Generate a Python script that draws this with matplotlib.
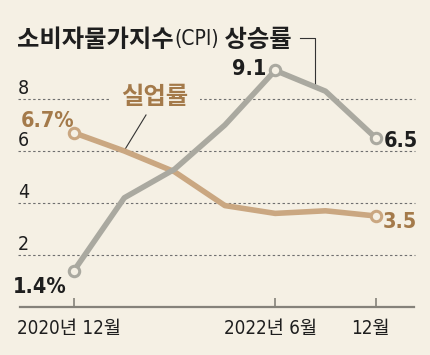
import matplotlib.pyplot as plt
from matplotlib.lines import Line2D

# data
labels = ['2020년 12월', '', '', '', '2022년 6월', '', '12월']
cpi = [1.4, 4.2, 5.3, 7.0, 9.1, 8.3, 6.5]
unemp = [6.7, 6.0, 5.2, 3.9, 3.6, 3.7, 3.5]
yticks = [2, 4, 6, 8]

W, H = 430, 355
BG = '#f5f0e4'
CPI_C = '#aaa9a0'
UN_C = '#caa781'
UN_TXT = '#a47a4a'
INK = '#1e1e1e'
KR = ['Noto Sans CJK KR']
NUM = dict(family=['DejaVu Sans', 'Noto Sans CJK KR'], stretch='condensed')

fig = plt.figure(figsize=(W / 100, H / 100), dpi=100, facecolor=BG)
ax = fig.add_axes([0, 0, 1, 1])
ax.set_facecolor(BG)
ax.axis('off')
# pixel layout: index i -> 74 + 50.3*i, value v -> 307 - 26*v
ax.set_xlim(-74 / 50.3, (W - 74) / 50.3)
ax.set_ylim((307 - H) / 26, 307 / 26)


def fx(px):
    return px / W


def fy(py):
    return 1 - py / H


# grid
for v in yticks:
    ax.axhline(v, xmin=fx(18), xmax=fx(415), color='#6f6f6f', lw=0.8,
               ls=(0, (2.2, 2.2)), zorder=1)
    ax.text(fx(18), fy(307 - 26 * v - 5), str(v), transform=ax.transAxes,
            fontsize=14, color=INK, va='baseline', ha='left', **NUM)

# x axis
ax.axhline(0, xmin=fx(20), xmax=fx(414), color='#85827a', lw=1.6, zorder=2)
xs = list(range(len(labels)))
tick_idx = [i for i, l in enumerate(labels) if l]
ax.vlines(tick_idx, 0, 9 / 26, color='#85827a', lw=1.2, zorder=2)
for i in tick_idx:
    ax.annotate(labels[i], (i, 0), xytext=(-5, -27), textcoords='offset pixels',
                ha='center', va='baseline', fontsize=13.5, color=INK, **NUM)

# lines
ax.plot(xs, unemp, color=UN_C, lw=4, solid_capstyle='round',
        solid_joinstyle='round', zorder=4)
ax.plot(xs, cpi, color=CPI_C, lw=4, solid_capstyle='round',
        solid_joinstyle='round', zorder=5)
for ser, col, idx in [(unemp, UN_C, [0, 6]), (cpi, CPI_C, [0, 4, 6])]:
    ax.plot([xs[i] for i in idx], [ser[i] for i in idx], 'o', ms=7.5,
            mfc=BG, mec=col, mew=2.2, zorder=6)

# value labels
bold = dict(fontsize=15.5, fontweight='bold', textcoords='offset pixels',
            va='baseline', **NUM)
ax.annotate('9.1', (4, cpi[4]), xytext=(-9, -5), ha='right', color=INK, **bold)
ax.annotate('6.5', (6, cpi[6]), xytext=(8, -9), ha='left', color=INK, **bold)
ax.annotate('1.4%', (0, cpi[0]), xytext=(-7, -22), ha='right', color=INK, **bold)
ax.annotate('6.7%', (0, unemp[0]), xytext=(0, 6), ha='right', color=UN_TXT, **bold)
ax.annotate('3.5', (6, unemp[6]), xytext=(7, -12), ha='left', color=UN_TXT, **bold)

# series label for unemployment
ax.annotate('실업률', (1, unemp[1]), xytext=(fx(155), fy(104)),
            textcoords='axes fraction', ha='center', va='baseline',
            family=KR, fontsize=17.5, fontweight='bold', color=UN_TXT,
            bbox=dict(boxstyle='square,pad=0.45', fc=BG, ec='none'),
            zorder=3)
ax.add_line(Line2D([fx(146), fx(124)], [fy(115), fy(151)], transform=ax.transAxes,
                   color='#333333', lw=0.8, zorder=3.5))

# title
t1 = ax.text(fx(17), fy(47), '소비자물가지수', transform=ax.transAxes,
             family=KR, fontsize=17.5, fontweight='bold', color=INK, va='baseline')
t2 = ax.annotate('(CPI)', xy=(1, 0), xycoords=t1, xytext=(1, 3),
                 textcoords='offset pixels', fontsize=15, color=INK,
                 va='bottom', **NUM)
ax.annotate(' 상승률', xy=(1, 0), xycoords=t2, xytext=(0, -3),
            textcoords='offset pixels', family=KR, fontsize=17.5,
            fontweight='bold', color=INK, va='bottom')
ax.add_line(Line2D([fx(300), fx(315), fx(315)], [fy(38), fy(38), fy(85)],
                   transform=ax.transAxes, color='#333333', lw=0.8, zorder=3))

fig.savefig('out.png', dpi=100, facecolor=BG)
